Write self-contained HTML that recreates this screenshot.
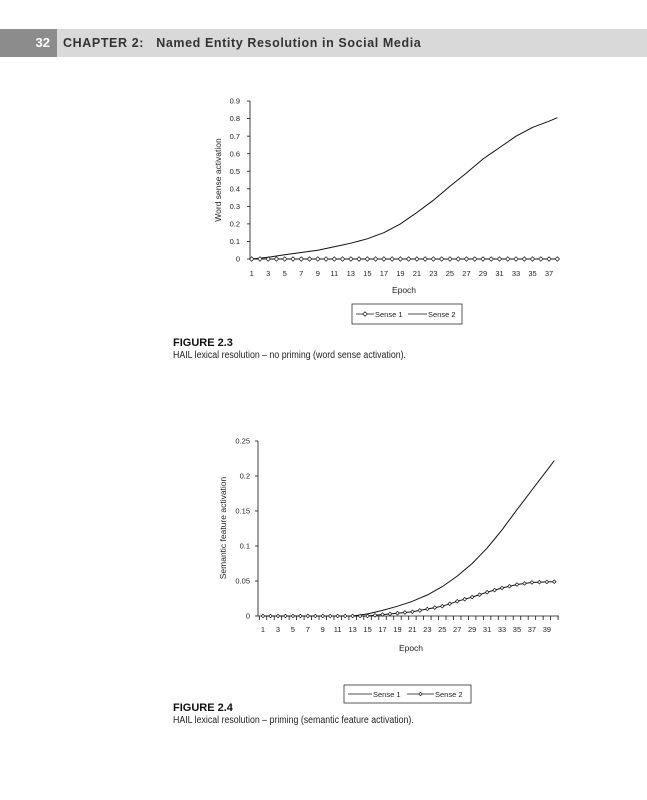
<!DOCTYPE html>
<html><head><meta charset="utf-8"><style>
body{margin:0;width:647px;height:800px;background:#fff;position:relative;overflow:hidden;font-family:"Liberation Sans",sans-serif}
.hd{position:absolute;left:0;top:29px;width:647px;height:28px;background:#d9d9d9}
.pn{position:absolute;left:0;top:29px;width:57px;height:28px;background:#8c8c8c;color:#fff;font-weight:bold;font-size:13px;line-height:28px;text-align:right;box-sizing:border-box;padding-right:7px}
.ht{position:absolute;left:63px;top:29px;line-height:28px;font-weight:bold;font-size:12.5px;color:#333;letter-spacing:0.6px;white-space:pre}
.fg{position:absolute;left:173px;font-weight:bold;font-size:11px;color:#111}
.cp{position:absolute;left:173px;font-size:10px;color:#222;transform:scaleX(0.88);transform-origin:left}
svg{position:absolute;left:0;top:0}
</style></head><body>
<div class="hd"></div><div class="pn">32</div>
<div class="ht">CHAPTER 2:   Named Entity Resolution in Social Media</div>
<div class="fg" style="top:337px">FIGURE 2.3</div>
<div class="cp" style="top:350px">HAIL lexical resolution – no priming (word sense activation).</div>
<div class="fg" style="top:702px">FIGURE 2.4</div>
<div class="cp" style="top:715px">HAIL lexical resolution – priming (semantic feature activation).</div>
<svg id="s" width="647" height="800" font-family="Liberation Sans, sans-serif" font-size="7.5" fill="#222"></svg>
<script>
var s=document.getElementById('s'),h='';
function L(x1,y1,x2,y2,w){h+='<line x1="'+x1+'" y1="'+y1+'" x2="'+x2+'" y2="'+y2+'" stroke="#111" stroke-width="'+(w||0.8)+'"/>';}
function T(x,y,t,a,extra){h+='<text x="'+x+'" y="'+y+'" text-anchor="'+(a||'middle')+'" '+(extra||'')+'>'+t+'</text>';}
function interp(k,n){var ks=Object.keys(k).map(Number).sort((a,b)=>a-b),r=[];for(var e=1;e<=n;e++){for(var i=0;i<ks.length-1;i++){if(e>=ks[i]&&e<=ks[i+1]){var t=(e-ks[i])/(ks[i+1]-ks[i]);r.push(k[ks[i]]+(k[ks[i+1]]-k[ks[i]])*t);break;}}}return r;}
function P(pts){return '<path d="M'+pts.map(p=>p[0].toFixed(1)+','+p[1].toFixed(1)).join('L')+'" fill="none" stroke="#111" stroke-width="1"/>';}
var x0=251.7,dx=8.26,y0=259,sy=175.5;
L(250,101,250,259);L(250,259,558,259);
for(var i=0;i<=9;i++){var y=y0-i*17.55;L(247,y,250,y);T(240,y+2.6,i==0?'0':(i/10).toFixed(1),'end');}
for(var e=1;e<=37;e+=2)T(x0+(e-1)*dx,276,e);
T(404,293,'Epoch','middle','font-size="8.5"');
T(221,180,'Word sense activation','middle','font-size="8.5" transform="rotate(-90 221 180)"');
var v2=interp({1:0,3:0.01,5:0.024,9:0.05,13:0.09,15:0.115,17:0.15,19:0.2,21:0.265,23:0.335,25:0.415,27:0.49,29:0.57,31:0.635,33:0.7,35:0.75,37:0.785,38:0.805},38);
h+=P(v2.map((v,i)=>[x0+i*dx,y0-v*sy]));
h+=P([[x0,y0],[x0+37*dx,y0]]);
for(var e=0;e<38;e++)h+='<path d="M'+(x0+e*dx-2.2)+','+y0+'l2.2,-2.2l2.2,2.2l-2.2,2.2z" fill="#fff" stroke="#111" stroke-width="0.7"/>';
h+='<rect x="352" y="304" width="110" height="20" fill="none" stroke="#111" stroke-width="0.7"/>';
L(356,314,374,314);h+='<path d="M362.8,314l2.2,-2.2l2.2,2.2l-2.2,2.2z" fill="#fff" stroke="#111" stroke-width="0.7"/>';
T(375,317,'Sense 1','start');L(408,314,427,314);T(428,317,'Sense 2','start');
var X0=263,DX=7.47,Y0=616,SY=700;
L(258,441,258,616);L(258,616,559,616);
var lb=['0','0.05','0.1','0.15','0.2','0.25'];
for(var i=0;i<=5;i++){var y=Y0-i*35;L(255,y,258,y);T(250,y+2.6,lb[i],'end');}
for(var e=0;e<=40;e++){var x=X0+(e-0.5)*DX;L(x,616,x,620);}
for(var e=1;e<=39;e+=2)T(X0+(e-1)*DX,632,e);
T(411,651,'Epoch','middle','font-size="8.5"');
T(226,528,'Semantic feature activation','middle','font-size="8.5" transform="rotate(-90 226 528)"');
var a=interp({1:0,13:0,15:0.003,17:0.008,19:0.014,21:0.021,23:0.03,25:0.042,27:0.057,29:0.075,31:0.097,33:0.123,35:0.152,37:0.18,39:0.208,40:0.222},40);
var b=interp({1:0,15:0,17:0.002,19:0.004,21:0.006,23:0.01,25:0.014,27:0.021,29:0.027,31:0.034,33:0.04,35:0.045,37:0.048,40:0.049},40);
h+=P(a.map((v,i)=>[X0+i*DX,Y0-v*SY]));
h+=P(b.map((v,i)=>[X0+i*DX,Y0-v*SY]));
b.forEach((v,i)=>{h+='<path d="M'+(X0+i*DX-1.8)+','+(Y0-v*SY)+'l1.8,-1.8l1.8,1.8l-1.8,1.8z" fill="#fff" stroke="#111" stroke-width="0.7"/>';});
h+='<rect x="344" y="685" width="127" height="18" fill="none" stroke="#111" stroke-width="0.7"/>';
L(348,694,372,694);T(373,697,'Sense 1','start');
L(407,694,434,694);h+='<path d="M418.7,694l1.8,-1.8l1.8,1.8l-1.8,1.8z" fill="#fff" stroke="#111" stroke-width="0.7"/>';T(435,697,'Sense 2','start');
s.innerHTML=h;
</script>
</body></html>
